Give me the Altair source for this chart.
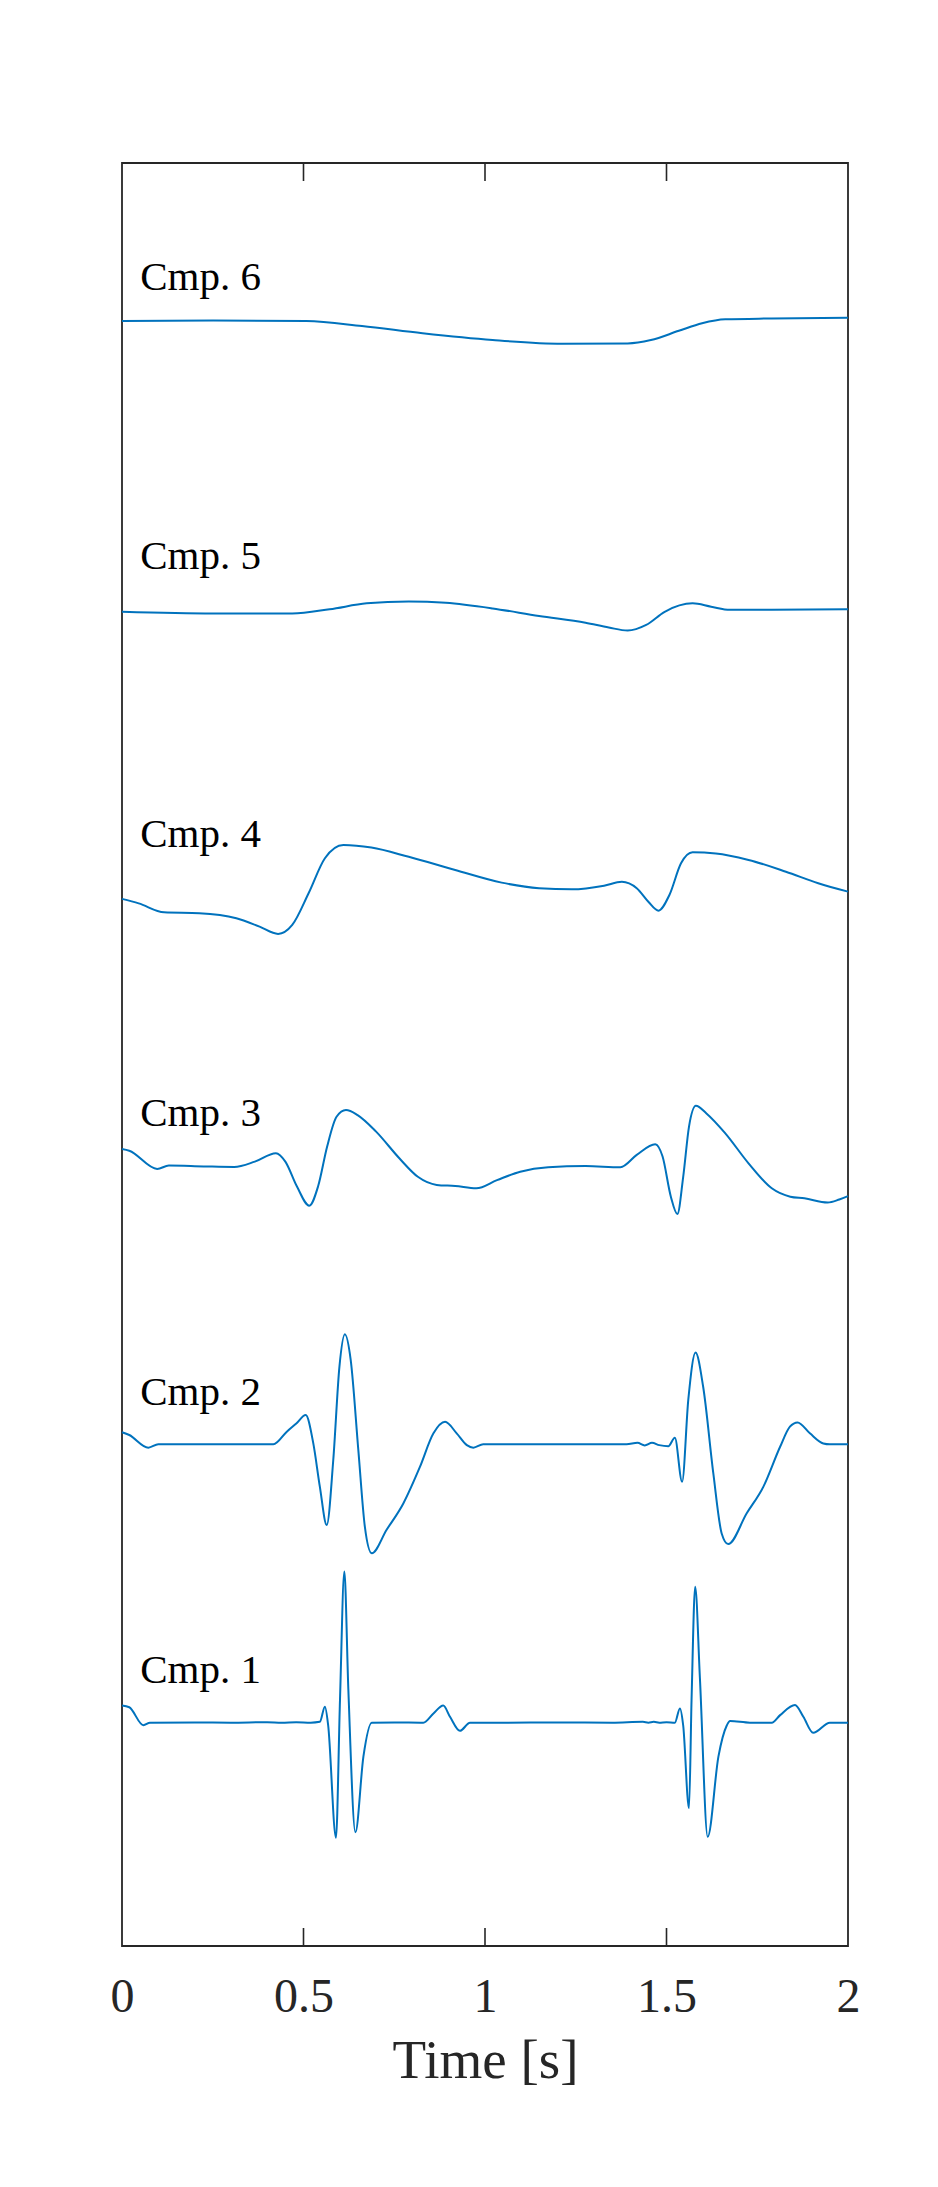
import altair as alt
import pandas as pd

# ---- data (time in s, deviation from each trace's baseline) ----
cmp1_t = [0.0, 0.02, 0.059, 0.077, 0.2, 0.3, 0.4, 0.44, 0.48, 0.52, 0.545, 0.559, 0.568,
          0.5895, 0.6005, 0.6125, 0.6235, 0.643, 0.665, 0.688, 0.75, 0.83, 0.858, 0.885,
          0.9036, 0.931, 0.9587, 1.05, 1.2, 1.35, 1.435, 1.45, 1.465, 1.48, 1.50, 1.523,
          1.537, 1.546, 1.562, 1.569, 1.579, 1.592, 1.6135, 1.643, 1.666, 1.675, 1.73,
          1.79, 1.813, 1.854, 1.877, 1.904, 1.95, 2.0]
cmp1_d = [0.61, 0.55, -0.09, 0.0, 0.01, 0.0, 0.02, 0.0, 0.02, 0.0, 0.03, 0.57, -0.1,
          -4.10, 0.8, 5.39, 1.2, -3.91, -1.21, 0.0, 0.01, 0.0, 0.33, 0.61,
          0.21, -0.29, 0.0, 0.0, 0.01, 0.0, 0.03, 0.0, 0.03, 0.0, 0.02, 0.0,
          0.51, -0.1, -3.05, 0.8, 4.85, 1.6, -4.07, -1.21, -0.1, 0.06, 0.0,
          0.0, 0.27, 0.63, 0.21, -0.36, 0.0, 0.0]

cmp2_t = [0.0, 0.02, 0.0725, 0.1, 0.25, 0.417, 0.454, 0.481, 0.506, 0.527, 0.545, 0.564,
          0.582, 0.599, 0.614, 0.63, 0.651, 0.669, 0.688, 0.729, 0.775, 0.821, 0.858,
          0.89, 0.922, 0.95, 0.968, 0.995, 1.2, 1.39, 1.42, 1.44, 1.46, 1.48, 1.505,
          1.523, 1.543, 1.56, 1.58, 1.601, 1.629, 1.652, 1.67, 1.721, 1.767, 1.813,
          1.84, 1.861, 1.895, 1.932, 1.95, 2.0]
cmp2_d = [0.36, 0.26, -0.19, -0.07, -0.07, -0.07, 0.38, 0.68, 0.97, -0.04, -1.58, -2.95,
          -0.63, 2.70, 3.85, 2.94, -0.27, -3.01, -3.96, -3.12, -2.18, -0.87, 0.32,
          0.73, 0.32, -0.1, -0.19, -0.07, -0.07, -0.07, -0.02, -0.11, -0.02, -0.1, -0.14,
          0.16, -1.41, 1.51, 3.20, 1.98, -1.11, -3.25, -3.63, -2.53, -1.58, -0.16,
          0.56, 0.71, 0.32, -0.04, -0.07, -0.07]

cmp3_t = [0.0, 0.02, 0.097, 0.129, 0.225, 0.309, 0.366, 0.424, 0.45, 0.482, 0.516, 0.54,
          0.565, 0.591, 0.617, 0.649, 0.7, 0.764, 0.815, 0.867, 0.918, 0.976, 1.033,
          1.097, 1.174, 1.277, 1.373, 1.418, 1.469, 1.489, 1.512, 1.53, 1.546, 1.562,
          1.581, 1.61, 1.662, 1.726, 1.79, 1.841, 1.88, 1.944, 1.976, 2.0]
cmp3_d = [0.46, 0.40, -0.25, -0.13, -0.16, -0.18, 0.01, 0.31, 0.01, -0.88, -1.56, -0.88,
          0.54, 1.61, 1.85, 1.67, 1.08, 0.13, -0.53, -0.82, -0.86, -0.94, -0.65,
          -0.35, -0.19, -0.15, -0.19, 0.25, 0.63, 0.2, -1.24, -1.86, -0.53, 1.26,
          2.0, 1.73, 1.02, -0.05, -0.94, -1.24, -1.30, -1.45, -1.34, -1.22]

cmp4_t = [0.0, 0.046, 0.116, 0.213, 0.315, 0.379, 0.43, 0.469, 0.514, 0.559, 0.61, 0.687,
          0.79, 0.918, 1.046, 1.149, 1.239, 1.328, 1.377, 1.418, 1.45, 1.478, 1.508,
          1.54, 1.572, 1.636, 1.726, 1.829, 1.918, 2.0]
cmp4_d = [-0.62, -0.78, -1.10, -1.13, -1.31, -1.61, -1.87, -1.55, -0.42, 0.83, 1.30, 1.21,
          0.88, 0.41, -0.04, -0.24, -0.28, -0.15, -0.01, -0.24, -0.72, -1.04, -0.48,
          0.65, 1.04, 1.00, 0.77, 0.35, -0.06, -0.36]

cmp5_t = [0.0, 0.251, 0.469, 0.572, 0.674, 0.79, 0.892, 1.021, 1.149, 1.277, 1.341, 1.393,
          1.444, 1.495, 1.572, 1.623, 1.675, 1.79, 2.0]
cmp5_d = [-0.38, -0.44, -0.44, -0.29, -0.08, -0.01, -0.06, -0.26, -0.53, -0.77, -0.94, -1.05,
          -0.85, -0.38, -0.08, -0.2, -0.31, -0.31, -0.29]

cmp6_t = [0.0, 0.251, 0.508, 0.661, 0.828, 1.021, 1.213, 1.393, 1.457, 1.534, 1.598, 1.662,
          1.79, 2.0]
cmp6_d = [-0.01, 0.01, -0.01, -0.19, -0.45, -0.69, -0.82, -0.81, -0.69, -0.36, -0.09, 0.05,
          0.08, 0.11]

components = ["Cmp. 1", "Cmp. 2", "Cmp. 3", "Cmp. 4", "Cmp. 5", "Cmp. 6"]
offsets = [10, 20, 30, 40, 50, 60]
label_t = [0.05, 0.05, 0.05, 0.05, 0.05, 0.05]
label_y = [11.4, 21.34, 31.28, 41.22, 51.16, 61.1]
x_ticks = [0, 0.5, 1, 1.5, 2]
inner_ticks = [0.5, 1, 1.5]

series_t = [cmp1_t, cmp2_t, cmp3_t, cmp4_t, cmp5_t, cmp6_t]
series_d = [cmp1_d, cmp2_d, cmp3_d, cmp4_d, cmp5_d, cmp6_d]

rows = []
for name, off, ts, ds in zip(components, offsets, series_t, series_d):
    for t, d in zip(ts, ds):
        rows.append({"comp": name, "t": t, "v": off + d})
df = pd.DataFrame(rows)
labels_df = pd.DataFrame({"comp": components, "t": label_t, "v": label_y})
ticks_df = pd.DataFrame({"t": inner_ticks})

W, H = 726, 1783
FONT = "Liberation Serif"
AX = "#262626"

xscale = alt.Scale(domain=[0, 2], nice=False, zero=False)
yscale = alt.Scale(domain=[2.036, 65.625], nice=False, zero=False)

x_enc = alt.X(
    "t:Q", scale=xscale, title="Time [s]",
    axis=alt.Axis(values=x_ticks, format="~g", grid=False, domain=False, ticks=False,
                  tickSize=0, labelFont=FONT, labelFontSize=48, labelColor=AX,
                  labelBaseline="alphabetic", labelPadding=65, labelFlush=False,
                  labelOverlap=False, labelBound=False,
                  titleFont=FONT, titleFontSize=55, titleFontWeight="normal",
                  titleColor=AX, titleBaseline="alphabetic", titleX=W / 2, titleY=131,
                  titleAlign="center"),
)

lines = alt.Chart(df).mark_line(color="#0072BD", strokeWidth=2, interpolate="monotone").encode(
    x=x_enc,
    y=alt.Y("v:Q", scale=yscale, axis=None),
    detail="comp:N",
)

texts = alt.Chart(labels_df).mark_text(
    align="left", baseline="alphabetic", font=FONT, fontSize=41, color="black"
).encode(
    x=alt.X("t:Q", scale=xscale),
    y=alt.Y("v:Q", scale=yscale),
    text="comp:N",
)

tick_bottom = alt.Chart(ticks_df).mark_rule(color=AX, strokeWidth=1.6).encode(
    x=alt.X("t:Q", scale=xscale), y=alt.value(H), y2=alt.value(H - 18)
)
tick_top = alt.Chart(ticks_df).mark_rule(color=AX, strokeWidth=1.6).encode(
    x=alt.X("t:Q", scale=xscale), y=alt.value(0), y2=alt.value(18)
)

chart = alt.layer(lines, texts, tick_bottom, tick_top).properties(
    width=W, height=H,
    autosize=alt.AutoSizeParams(type="none"),
    padding={"left": 122, "top": 163, "right": 90, "bottom": 241},
).configure(
    background="white",
    view=alt.ViewConfig(stroke=AX, strokeWidth=1.8),
)

chart.save("out.html", embed_options={"renderer": "svg", "actions": False})
